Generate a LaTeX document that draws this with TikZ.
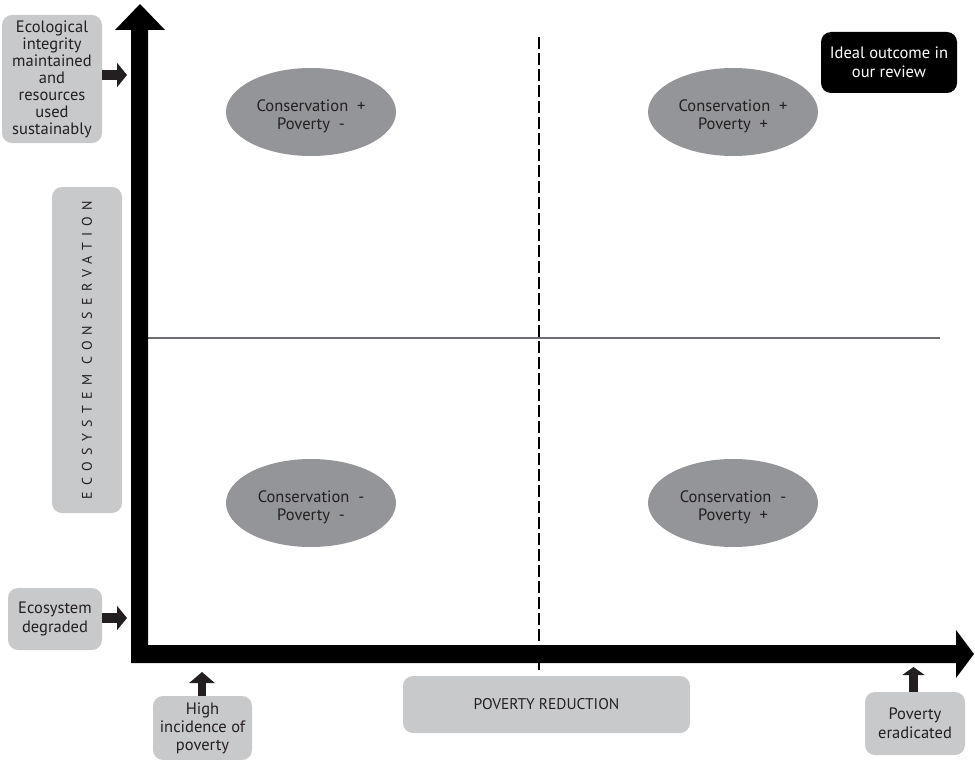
\documentclass[tikz,border=0pt]{standalone}
\usepackage{fontspec}
\setmainfont{PT Sans}
\usetikzlibrary{shapes.geometric,arrows.meta}
\definecolor{boxgrey}{HTML}{C8C9CB}
\definecolor{ovalgrey}{HTML}{939598}
\definecolor{inkdark}{HTML}{231F20}
\definecolor{gridgrey}{HTML}{6D6E71}
\tikzset{
  labelbox/.style={fill=boxgrey, rounded corners=10pt, align=center, inner sep=0pt,
    text=inkdark, font=\fontsize{16.5}{17}\selectfont},
  quadrant/.style={ellipse, fill=ovalgrey, minimum width=170pt, minimum height=88pt,
    inner sep=0pt},
  quadtext/.style={align=center, inner sep=0pt, text=inkdark,
    font=\fontsize{16.5}{18}\selectfont},
  pointer/.style={draw=inkdark, line width=#1},
  pointer/.default=10pt,
}
\begin{document}
\begin{tikzpicture}[x=1pt,y=-1pt]
\useasboundingbox (0,0) rectangle (975,760);

% quadrant dividers
\draw[gridgrey, line width=1.2pt] (147,338) -- (940,338);
\draw[black, line width=2.4pt, dash pattern=on 12pt off 4pt] (539,37) -- (539,670);

% main axes as one filled L-shaped arrow outline
\fill[black] (115,30) -- (140,4) -- (165,30) -- (148,30) -- (148,645)
  -- (956,645) -- (956,630) -- (974,654) -- (956,678) -- (956,663)
  -- (131,663) -- (131,30) -- cycle;

% quadrant ovals and their captions
\node[quadrant] (q1) at (311,112) {};
\node[quadrant] (q2) at (733,112) {};
\node[quadrant] (q3) at (311,503) {};
\node[quadrant] (q4) at (733,503) {};
\node[quadtext] (q1t) at ([yshift=-4pt]q1.center) {Conservation\ \ +\\Poverty\ \ -};
\node[quadtext] (q2t) at ([yshift=-4pt]q2.center) {Conservation\ \ +\\Poverty\ \ +};
\node[quadtext] (q3t) at ([yshift=-4pt]q3.center) {Conservation\ \ -\\Poverty\ \ -};
\node[quadtext] (q4t) at ([yshift=-4pt]q4.center) {Conservation\ \ -\\Poverty\ \ +};

% highlighted outcome
\node[labelbox, fill=black, text=white, minimum width=136pt, minimum height=61pt,
  font=\fontsize{16.5}{19}\selectfont]
  (ideal) at (889,62.5) {Ideal outcome in\\our review};

% axis end labels
\node[labelbox, minimum width=100pt, minimum height=128pt] (eco) at (52,79)
  {Ecological\\integrity\\maintained\\and\\resources\\used\\sustainably};
\node[labelbox, minimum width=94pt, minimum height=62pt, font=\fontsize{16.5}{19}\selectfont]
  (degr) at (55,619) {Ecosystem\\degraded};
\node[labelbox, minimum width=99pt, minimum height=64pt, font=\fontsize{16.5}{18}\selectfont]
  (high) at (202.5,728) {High\\incidence of\\poverty};
\node[labelbox, minimum width=100pt, minimum height=63pt, font=\fontsize{16.5}{19}\selectfont]
  (erad) at (915,723.5) {Poverty\\eradicated};

% axis titles
\node[labelbox, minimum width=287pt, minimum height=57pt, font=\fontsize{15.5}{17}\selectfont]
  (xtitle) at (546.5,704.5) {POVERTY REDUCTION};
\node[labelbox, minimum width=326pt, minimum height=70pt, rotate=90,
  font=\fontsize{14}{16}\selectfont\addfontfeature{LetterSpace=45}]
  (ytitle) at (87,350) {ECOSYSTEM CONSERVATION};

% small pointers from labels to the axes
\coordinate (ecoTip) at (127,75);
\coordinate (degrTip) at (127,618);
\coordinate (highTip) at (202,672);
\coordinate (eradTip) at (913.5,667);
\draw[pointer=10pt, -{Triangle[length=10pt,width=24pt]}] (eco.east |- ecoTip) -- (ecoTip);
\draw[pointer=10pt, -{Triangle[length=10pt,width=24pt]}] (degr.east |- degrTip) -- (degrTip);
\draw[pointer=8pt, -{Triangle[length=11pt,width=25pt]}] (high.north -| highTip) -- (highTip);
\draw[pointer=9pt, -{Triangle[length=8pt,width=22pt]}] (erad.north -| eradTip) -- (eradTip);
\end{tikzpicture}
\end{document}
